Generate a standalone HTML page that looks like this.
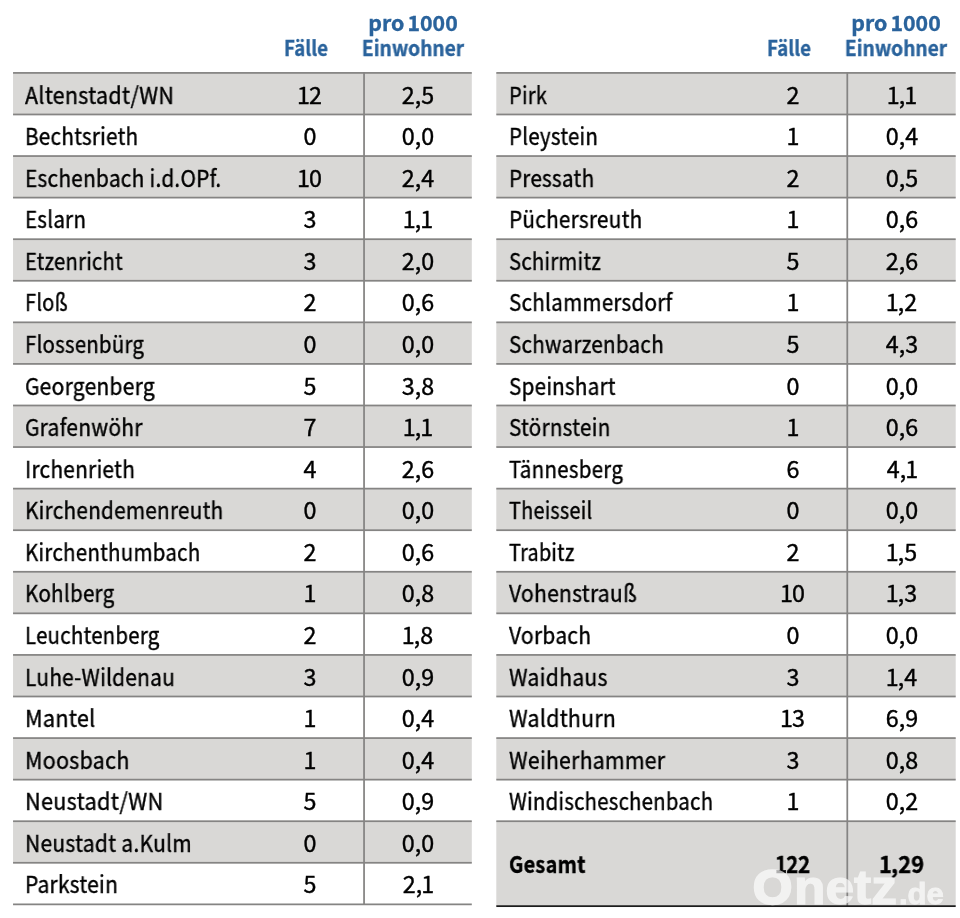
<!DOCTYPE html>
<html lang="de"><head><meta charset="utf-8"><title>Fälle pro 1000 Einwohner</title>
<style>
html,body{margin:0;padding:0;background:#fff;}
body{width:960px;height:918px;position:relative;overflow:hidden;font-family:"Noto Sans CJK JP","Liberation Sans",sans-serif;color:#111;}
.t{will-change:transform;position:absolute;white-space:nowrap;line-height:1;font-size:23.3px;transform-origin:0 0;letter-spacing:.3px;-webkit-text-stroke:.4px #000;color:#000;}
.n{will-change:transform;position:absolute;white-space:nowrap;line-height:1;font-size:23.3px;text-align:center;width:80px;-webkit-text-stroke:.4px #000;color:#000;}
.n i{font-style:normal;margin:0 -1px;}
.g{position:absolute;background:#d9d8d6;}
.h{position:absolute;height:2px;background:#858483;}
.v{position:absolute;width:2px;background:#858483;}
.hd{will-change:transform;position:absolute;white-space:nowrap;line-height:1;font-weight:bold;color:#2a639c;-webkit-text-stroke:.35px #2a639c;text-align:center;transform-origin:50% 0;}
.b{font-weight:bold;}
.wm{position:absolute;white-space:nowrap;line-height:1;font-family:"Liberation Sans",sans-serif;font-weight:bold;color:#fff;transform-origin:0 0;}
</style></head><body>
<svg width="960" height="918" viewBox="0 0 960 918" style="position:absolute;left:0;top:0"><rect x="13.05" y="72.90" width="458.75" height="41.57" fill="#d9d8d6"/><rect x="13.05" y="156.05" width="458.75" height="41.57" fill="#d9d8d6"/><rect x="13.05" y="239.19" width="458.75" height="41.57" fill="#d9d8d6"/><rect x="13.05" y="322.34" width="458.75" height="41.57" fill="#d9d8d6"/><rect x="13.05" y="405.48" width="458.75" height="41.57" fill="#d9d8d6"/><rect x="13.05" y="488.63" width="458.75" height="41.57" fill="#d9d8d6"/><rect x="13.05" y="571.78" width="458.75" height="41.57" fill="#d9d8d6"/><rect x="13.05" y="654.92" width="458.75" height="41.57" fill="#d9d8d6"/><rect x="13.05" y="738.07" width="458.75" height="41.57" fill="#d9d8d6"/><rect x="13.05" y="821.21" width="458.75" height="41.57" fill="#d9d8d6"/><rect x="13.05" y="72.03" width="458.75" height="1.75" fill="#858483"/><rect x="13.05" y="113.60" width="458.75" height="1.75" fill="#858483"/><rect x="13.05" y="155.17" width="458.75" height="1.75" fill="#858483"/><rect x="13.05" y="196.74" width="458.75" height="1.75" fill="#858483"/><rect x="13.05" y="238.32" width="458.75" height="1.75" fill="#858483"/><rect x="13.05" y="279.89" width="458.75" height="1.75" fill="#858483"/><rect x="13.05" y="321.46" width="458.75" height="1.75" fill="#858483"/><rect x="13.05" y="363.04" width="458.75" height="1.75" fill="#858483"/><rect x="13.05" y="404.61" width="458.75" height="1.75" fill="#858483"/><rect x="13.05" y="446.18" width="458.75" height="1.75" fill="#858483"/><rect x="13.05" y="487.75" width="458.75" height="1.75" fill="#858483"/><rect x="13.05" y="529.33" width="458.75" height="1.75" fill="#858483"/><rect x="13.05" y="570.90" width="458.75" height="1.75" fill="#858483"/><rect x="13.05" y="612.47" width="458.75" height="1.75" fill="#858483"/><rect x="13.05" y="654.05" width="458.75" height="1.75" fill="#858483"/><rect x="13.05" y="695.62" width="458.75" height="1.75" fill="#858483"/><rect x="13.05" y="737.19" width="458.75" height="1.75" fill="#858483"/><rect x="13.05" y="778.77" width="458.75" height="1.75" fill="#858483"/><rect x="13.05" y="820.34" width="458.75" height="1.75" fill="#858483"/><rect x="13.05" y="861.91" width="458.75" height="1.75" fill="#858483"/><rect x="13.05" y="903.49" width="458.75" height="1.75" fill="#858483"/><rect x="363.18" y="72.03" width="1.75" height="832.34" fill="#858483"/><rect x="496.30" y="72.90" width="459.40" height="41.57" fill="#d9d8d6"/><rect x="496.30" y="156.05" width="459.40" height="41.57" fill="#d9d8d6"/><rect x="496.30" y="239.19" width="459.40" height="41.57" fill="#d9d8d6"/><rect x="496.30" y="322.34" width="459.40" height="41.57" fill="#d9d8d6"/><rect x="496.30" y="405.48" width="459.40" height="41.57" fill="#d9d8d6"/><rect x="496.30" y="488.63" width="459.40" height="41.57" fill="#d9d8d6"/><rect x="496.30" y="571.78" width="459.40" height="41.57" fill="#d9d8d6"/><rect x="496.30" y="654.92" width="459.40" height="41.57" fill="#d9d8d6"/><rect x="496.30" y="738.07" width="459.40" height="41.57" fill="#d9d8d6"/><rect x="496.30" y="821.21" width="459.40" height="84.89" fill="#d9d8d6"/><rect x="496.30" y="72.03" width="459.40" height="1.75" fill="#858483"/><rect x="496.30" y="113.60" width="459.40" height="1.75" fill="#858483"/><rect x="496.30" y="155.17" width="459.40" height="1.75" fill="#858483"/><rect x="496.30" y="196.74" width="459.40" height="1.75" fill="#858483"/><rect x="496.30" y="238.32" width="459.40" height="1.75" fill="#858483"/><rect x="496.30" y="279.89" width="459.40" height="1.75" fill="#858483"/><rect x="496.30" y="321.46" width="459.40" height="1.75" fill="#858483"/><rect x="496.30" y="363.04" width="459.40" height="1.75" fill="#858483"/><rect x="496.30" y="404.61" width="459.40" height="1.75" fill="#858483"/><rect x="496.30" y="446.18" width="459.40" height="1.75" fill="#858483"/><rect x="496.30" y="487.75" width="459.40" height="1.75" fill="#858483"/><rect x="496.30" y="529.33" width="459.40" height="1.75" fill="#858483"/><rect x="496.30" y="570.90" width="459.40" height="1.75" fill="#858483"/><rect x="496.30" y="612.47" width="459.40" height="1.75" fill="#858483"/><rect x="496.30" y="654.05" width="459.40" height="1.75" fill="#858483"/><rect x="496.30" y="695.62" width="459.40" height="1.75" fill="#858483"/><rect x="496.30" y="737.19" width="459.40" height="1.75" fill="#858483"/><rect x="496.30" y="778.77" width="459.40" height="1.75" fill="#858483"/><rect x="496.30" y="820.34" width="459.40" height="1.75" fill="#858483"/><rect x="846.42" y="72.03" width="1.75" height="834.08" fill="#858483"/><rect x="496.30" y="905.27" width="459.40" height="1.75" fill="#1c1c1c"/></svg>

<div class="t" style="left:25.40px;top:82.53px;transform:scaleX(0.9211)">Altenstadt/WN</div>
<div class="n" style="left:269.70px;top:82.53px"><i>1</i>2</div>
<div class="n" style="left:378.00px;top:82.53px">2,5</div>
<div class="t" style="left:25.40px;top:124.10px;transform:scaleX(0.8860)">Bechtsrieth</div>
<div class="n" style="left:269.70px;top:124.10px">0</div>
<div class="n" style="left:378.00px;top:124.10px">0,0</div>
<div class="t" style="left:25.40px;top:165.68px;transform:scaleX(0.8926)">Eschenbach i.d.OPf.</div>
<div class="n" style="left:269.70px;top:165.68px"><i>1</i>0</div>
<div class="n" style="left:378.00px;top:165.68px">2,4</div>
<div class="t" style="left:25.40px;top:207.25px;transform:scaleX(0.8802)">Eslarn</div>
<div class="n" style="left:269.70px;top:207.25px">3</div>
<div class="n" style="left:378.00px;top:207.25px"><i>1</i>,<i>1</i></div>
<div class="t" style="left:25.40px;top:248.82px;transform:scaleX(0.8666)">Etzenricht</div>
<div class="n" style="left:269.70px;top:248.82px">3</div>
<div class="n" style="left:378.00px;top:248.82px">2,0</div>
<div class="t" style="left:25.40px;top:290.40px;transform:scaleX(0.8593)">Floß</div>
<div class="n" style="left:269.70px;top:290.40px">2</div>
<div class="n" style="left:378.00px;top:290.40px">0,6</div>
<div class="t" style="left:25.40px;top:331.97px;transform:scaleX(0.8746)">Flossenbürg</div>
<div class="n" style="left:269.70px;top:331.97px">0</div>
<div class="n" style="left:378.00px;top:331.97px">0,0</div>
<div class="t" style="left:25.40px;top:373.54px;transform:scaleX(0.9009)">Georgenberg</div>
<div class="n" style="left:269.70px;top:373.54px">5</div>
<div class="n" style="left:378.00px;top:373.54px">3,8</div>
<div class="t" style="left:25.40px;top:415.12px;transform:scaleX(0.8992)">Grafenwöhr</div>
<div class="n" style="left:269.70px;top:415.12px">7</div>
<div class="n" style="left:378.00px;top:415.12px"><i>1</i>,<i>1</i></div>
<div class="t" style="left:25.40px;top:456.69px;transform:scaleX(0.8945)">Irchenrieth</div>
<div class="n" style="left:269.70px;top:456.69px">4</div>
<div class="n" style="left:378.00px;top:456.69px">2,6</div>
<div class="t" style="left:25.40px;top:498.26px;transform:scaleX(0.8890)">Kirchendemenreuth</div>
<div class="n" style="left:269.70px;top:498.26px">0</div>
<div class="n" style="left:378.00px;top:498.26px">0,0</div>
<div class="t" style="left:25.40px;top:539.83px;transform:scaleX(0.8788)">Kirchenthumbach</div>
<div class="n" style="left:269.70px;top:539.83px">2</div>
<div class="n" style="left:378.00px;top:539.83px">0,6</div>
<div class="t" style="left:25.40px;top:581.41px;transform:scaleX(0.8825)">Kohlberg</div>
<div class="n" style="left:269.70px;top:581.41px"><i>1</i></div>
<div class="n" style="left:378.00px;top:581.41px">0,8</div>
<div class="t" style="left:25.40px;top:622.98px;transform:scaleX(0.8751)">Leuchtenberg</div>
<div class="n" style="left:269.70px;top:622.98px">2</div>
<div class="n" style="left:378.00px;top:622.98px"><i>1</i>,8</div>
<div class="t" style="left:25.40px;top:664.55px;transform:scaleX(0.8936)">Luhe-Wildenau</div>
<div class="n" style="left:269.70px;top:664.55px">3</div>
<div class="n" style="left:378.00px;top:664.55px">0,9</div>
<div class="t" style="left:25.40px;top:706.13px;transform:scaleX(0.9271)">Mantel</div>
<div class="n" style="left:269.70px;top:706.13px"><i>1</i></div>
<div class="n" style="left:378.00px;top:706.13px">0,4</div>
<div class="t" style="left:25.40px;top:747.70px;transform:scaleX(0.9206)">Moosbach</div>
<div class="n" style="left:269.70px;top:747.70px"><i>1</i></div>
<div class="n" style="left:378.00px;top:747.70px">0,4</div>
<div class="t" style="left:25.40px;top:789.27px;transform:scaleX(0.9296)">Neustadt/WN</div>
<div class="n" style="left:269.70px;top:789.27px">5</div>
<div class="n" style="left:378.00px;top:789.27px">0,9</div>
<div class="t" style="left:25.40px;top:830.84px;transform:scaleX(0.9019)">Neustadt a.Kulm</div>
<div class="n" style="left:269.70px;top:830.84px">0</div>
<div class="n" style="left:378.00px;top:830.84px">0,0</div>
<div class="t" style="left:25.40px;top:872.42px;transform:scaleX(0.8973)">Parkstein</div>
<div class="n" style="left:269.70px;top:872.42px">5</div>
<div class="n" style="left:378.00px;top:872.42px">2,<i>1</i></div>
<div class="t" style="left:508.70px;top:82.53px;transform:scaleX(0.8634)">Pirk</div>
<div class="n" style="left:753.20px;top:82.53px">2</div>
<div class="n" style="left:861.70px;top:82.53px"><i>1</i>,<i>1</i></div>
<div class="t" style="left:508.70px;top:124.10px;transform:scaleX(0.8775)">Pleystein</div>
<div class="n" style="left:753.20px;top:124.10px"><i>1</i></div>
<div class="n" style="left:861.70px;top:124.10px">0,4</div>
<div class="t" style="left:508.70px;top:165.68px;transform:scaleX(0.8855)">Pressath</div>
<div class="n" style="left:753.20px;top:165.68px">2</div>
<div class="n" style="left:861.70px;top:165.68px">0,5</div>
<div class="t" style="left:508.70px;top:207.25px;transform:scaleX(0.8903)">Püchersreuth</div>
<div class="n" style="left:753.20px;top:207.25px"><i>1</i></div>
<div class="n" style="left:861.70px;top:207.25px">0,6</div>
<div class="t" style="left:508.70px;top:248.82px;transform:scaleX(0.8705)">Schirmitz</div>
<div class="n" style="left:753.20px;top:248.82px">5</div>
<div class="n" style="left:861.70px;top:248.82px">2,6</div>
<div class="t" style="left:508.70px;top:290.40px;transform:scaleX(0.8842)">Schlammersdorf</div>
<div class="n" style="left:753.20px;top:290.40px"><i>1</i></div>
<div class="n" style="left:861.70px;top:290.40px"><i>1</i>,2</div>
<div class="t" style="left:508.70px;top:331.97px;transform:scaleX(0.8829)">Schwarzenbach</div>
<div class="n" style="left:753.20px;top:331.97px">5</div>
<div class="n" style="left:861.70px;top:331.97px">4,3</div>
<div class="t" style="left:508.70px;top:373.54px;transform:scaleX(0.8842)">Speinshart</div>
<div class="n" style="left:753.20px;top:373.54px">0</div>
<div class="n" style="left:861.70px;top:373.54px">0,0</div>
<div class="t" style="left:508.70px;top:415.12px;transform:scaleX(0.8868)">Störnstein</div>
<div class="n" style="left:753.20px;top:415.12px"><i>1</i></div>
<div class="n" style="left:861.70px;top:415.12px">0,6</div>
<div class="t" style="left:508.70px;top:456.69px;transform:scaleX(0.8801)">Tännesberg</div>
<div class="n" style="left:753.20px;top:456.69px">6</div>
<div class="n" style="left:861.70px;top:456.69px">4,<i>1</i></div>
<div class="t" style="left:508.70px;top:498.26px;transform:scaleX(0.8515)">Theisseil</div>
<div class="n" style="left:753.20px;top:498.26px">0</div>
<div class="n" style="left:861.70px;top:498.26px">0,0</div>
<div class="t" style="left:508.70px;top:539.83px;transform:scaleX(0.8505)">Trabitz</div>
<div class="n" style="left:753.20px;top:539.83px">2</div>
<div class="n" style="left:861.70px;top:539.83px"><i>1</i>,5</div>
<div class="t" style="left:508.70px;top:581.41px;transform:scaleX(0.9033)">Vohenstrauß</div>
<div class="n" style="left:753.20px;top:581.41px"><i>1</i>0</div>
<div class="n" style="left:861.70px;top:581.41px"><i>1</i>,3</div>
<div class="t" style="left:508.70px;top:622.98px;transform:scaleX(0.8997)">Vorbach</div>
<div class="n" style="left:753.20px;top:622.98px">0</div>
<div class="n" style="left:861.70px;top:622.98px">0,0</div>
<div class="t" style="left:508.70px;top:664.55px;transform:scaleX(0.9081)">Waidhaus</div>
<div class="n" style="left:753.20px;top:664.55px">3</div>
<div class="n" style="left:861.70px;top:664.55px"><i>1</i>,4</div>
<div class="t" style="left:508.70px;top:706.13px;transform:scaleX(0.9132)">Waldthurn</div>
<div class="n" style="left:753.20px;top:706.13px"><i>1</i>3</div>
<div class="n" style="left:861.70px;top:706.13px">6,9</div>
<div class="t" style="left:508.70px;top:747.70px;transform:scaleX(0.9093)">Weiherhammer</div>
<div class="n" style="left:753.20px;top:747.70px">3</div>
<div class="n" style="left:861.70px;top:747.70px">0,8</div>
<div class="t" style="left:508.70px;top:789.27px;transform:scaleX(0.8714)">Windischeschenbach</div>
<div class="n" style="left:753.20px;top:789.27px"><i>1</i></div>
<div class="n" style="left:861.70px;top:789.27px">0,2</div>
<div class="t b" style="left:508.70px;top:852.23px;transform:scaleX(0.8566)">Gesamt</div>
<div class="n b" style="left:753.20px;top:852.23px;transform:scaleX(.88)"><i>1</i>22</div>
<div class="n b" style="left:861.70px;top:852.23px;transform:scaleX(.94)"><i>1</i>,29</div>
<div class="hd" style="left:226.00px;top:36.74px;width:160px;font-size:20.6px;transform:scaleX(.906)">Fälle</div>
<div class="hd" style="left:332.80px;top:12.14px;width:160px;font-size:20.6px;word-spacing:-1.6px;transform:scaleX(1.032)">pro 1000</div>
<div class="hd" style="left:332.80px;top:36.74px;width:160px;font-size:20.6px;transform:scaleX(.930)">Einwohner</div>
<div class="hd" style="left:709.20px;top:36.74px;width:160px;font-size:20.6px;transform:scaleX(.906)">Fälle</div>
<div class="hd" style="left:816.00px;top:12.14px;width:160px;font-size:20.6px;word-spacing:-1.6px;transform:scaleX(1.032)">pro 1000</div>
<div class="hd" style="left:816.00px;top:36.74px;width:160px;font-size:20.6px;transform:scaleX(.930)">Einwohner</div>
<div style="position:absolute;left:0;top:0;width:960px;height:918px;opacity:.68;will-change:transform">
<div class="wm" style="left:753.3px;top:864.1px;font-size:47.5px;-webkit-text-stroke:2.4px #fff;transform:scaleX(1.06)">O</div>
<div class="wm" style="left:794px;top:864.2px;font-size:48px;-webkit-text-stroke:1.2px #fff;transform:scaleX(1.0725)">netz</div>
<div class="wm" style="left:899px;top:880.4px;font-size:29px;-webkit-text-stroke:.8px #fff;transform:scaleX(1.07)">.de</div>
</div>
</body></html>
